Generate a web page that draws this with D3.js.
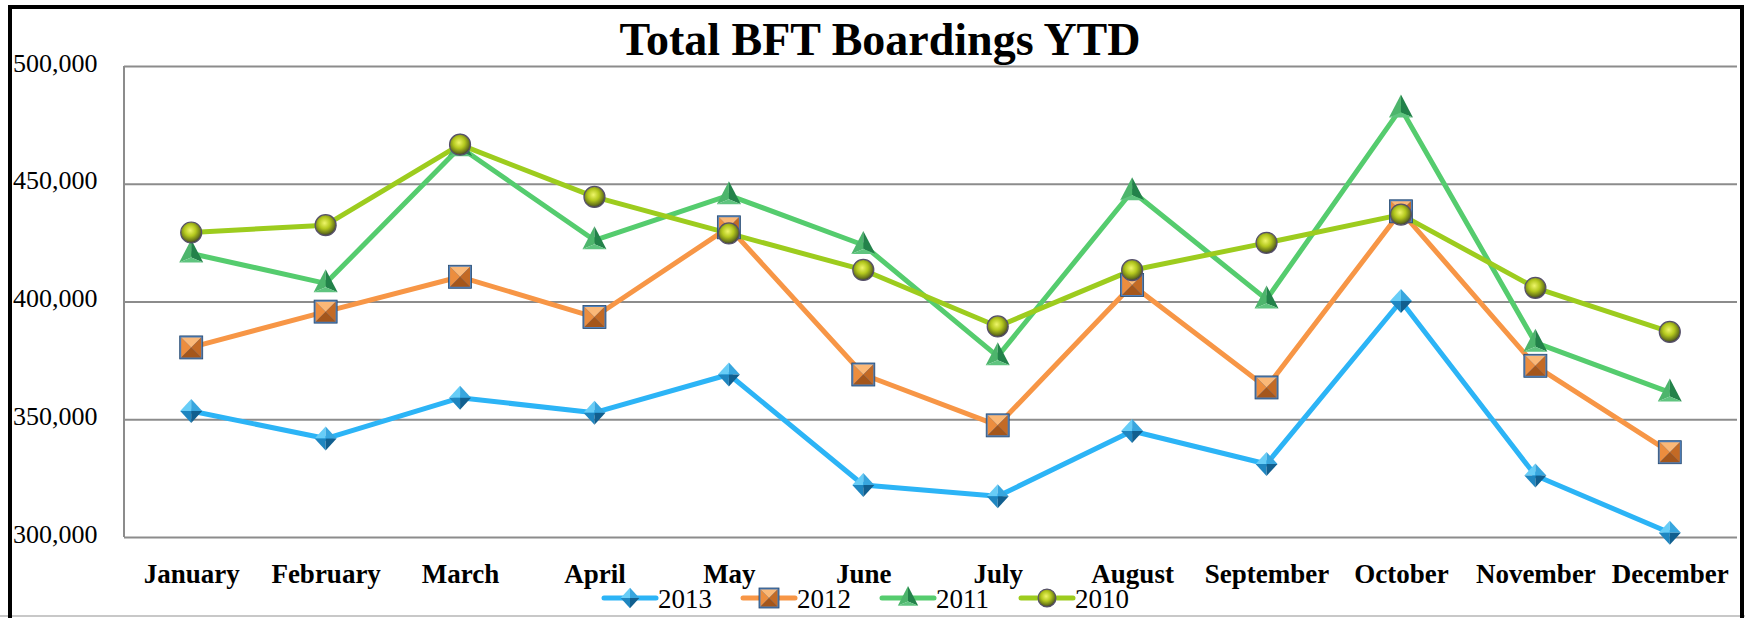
<!DOCTYPE html>
<html>
<head>
<meta charset="utf-8">
<script src="https://cdnjs.cloudflare.com/ajax/libs/d3/7.8.5/d3.min.js"></script>
<style>
    body { margin: 0; background: #fff; }
    svg { display: block; }
</style>
</head>
<body>
<div id="chart"></div>
<script>
// values
const months = ["January", "February", "March", "April", "May", "June",
    "July", "August", "September", "October", "November", "December"];
const years = ["2013", "2012", "2011", "2010"];
const v2013 = [353500, 341800, 359100, 352800, 369000, 322100, 317300, 345000, 331000, 400200, 326100, 301800];
const v2012 = [380500, 395700, 410500, 393400, 431500, 369000, 347400, 407000, 363500, 438300, 372700, 336000];
const v2011 = [420400, 407700, 465500, 426000, 445100, 424000, 376700, 446800, 400900, 482000, 382500, 361400];
const v2010 = [429300, 432400, 466600, 444400, 428900, 413400, 389400, 413300, 424900, 436900, 405800, 387100];
const yTicks = [300000, 350000, 400000, 450000, 500000];

const W = 1745, H = 618;
const plotLeft = 124, plotRight = 1737, plotTop = 66, plotBottom = 537;

const series = [
    {name: years[0], values: v2013, color: "#2cb4f6", marker: "diamond"},
    {name: years[1], values: v2012, color: "#f79646", marker: "square"},
    {name: years[2], values: v2011, color: "#55cc6e", marker: "triangle"},
    {name: years[3], values: v2010, color: "#9dcc1e", marker: "circle"}
];

const svg = d3.select("#chart").append("svg")
    .attr("width", W)
    .attr("height", H);

const defs = svg.append("defs");
const ball = defs.append("radialGradient")
    .attr("id", "ball").attr("cx", "45%").attr("cy", "40%").attr("r", "60%");
ball.append("stop").attr("offset", "0%").attr("stop-color", "#eef56a");
ball.append("stop").attr("offset", "45%").attr("stop-color", "#b4c81e");
ball.append("stop").attr("offset", "80%").attr("stop-color", "#6d7a1a");
ball.append("stop").attr("offset", "100%").attr("stop-color", "#3c3c3c");

const x = d3.scalePoint().domain(months).range([plotLeft, plotRight]).padding(0.5);
const y = d3.scaleLinear().domain([300000, 500000]).range([plotBottom, plotTop]);

// frame
svg.append("line")
    .attr("x1", 0).attr("x2", W).attr("y1", 616).attr("y2", 616)
    .attr("stroke", "#c8c8c8").attr("stroke-width", 2);
svg.append("path")
    .attr("d", "M10,618 V7 H1742 V618")
    .attr("fill", "none").attr("stroke", "#000").attr("stroke-width", 4);

// title
svg.append("text")
    .attr("x", 880)
    .attr("y", 55)
    .attr("text-anchor", "middle")
    .style("font-family", "'Liberation Serif', serif")
    .style("font-weight", "bold")
    .style("font-size", "46px")
    .text("Total BFT Boardings YTD");

// y axis with grid lines
const yAxis = svg.append("g")
    .attr("transform", "translate(" + plotLeft + ",0)")
    .call(d3.axisLeft(y).tickValues(yTicks).tickSize(-(plotRight - plotLeft)).tickFormat(d3.format(",")));
yAxis.select(".domain").remove();
yAxis.selectAll(".tick line").attr("stroke", "#8c8c8c").attr("stroke-width", 2);
yAxis.selectAll(".tick text")
    .attr("x", 13 - plotLeft)
    .attr("dy", "0.2em")
    .attr("text-anchor", "start")
    .attr("fill", "#000")
    .style("font-family", "'Liberation Serif', serif")
    .style("font-size", "26px");

svg.append("line")
    .attr("x1", plotLeft).attr("x2", plotLeft).attr("y1", plotTop).attr("y2", plotBottom)
    .attr("stroke", "#8c8c8c").attr("stroke-width", 2);

// x axis labels
const xAxis = svg.append("g")
    .attr("transform", "translate(0," + plotBottom + ")")
    .call(d3.axisBottom(x).tickSize(0));
xAxis.select(".domain").remove();
xAxis.selectAll(".tick text")
    .attr("y", 46)
    .attr("dy", 0)
    .attr("fill", "#000")
    .style("font-family", "'Liberation Serif', serif")
    .style("font-weight", "bold")
    .style("font-size", "27px");

// 3d-ish markers, drawn around (0,0)
function drawMarker(g, type, s) {
    if (type === "diamond") {
        const a = 11 * s, b = 12 * s;
        const facets = [
            ["M0,0 L0," + (-b) + " L" + (-a) + ",0 Z", "#67cdf7"],
            ["M0,0 L0," + (-b) + " L" + a + ",0 Z", "#38a6de"],
            ["M0,0 L0," + b + " L" + (-a) + ",0 Z", "#1f86c0"],
            ["M0,0 L0," + b + " L" + a + ",0 Z", "#115f8f"]
        ];
        facets.forEach(function (f) {
            g.append("path").attr("d", f[0]).attr("fill", f[1]);
        });
    } else if (type === "square") {
        const a = 10 * s;
        g.append("rect").attr("x", -a - 1.5).attr("y", -a - 1.5)
            .attr("width", 2 * a + 3).attr("height", 2 * a + 3)
            .attr("fill", "#4f81bd");
        const facets = [
            ["M0,0 L" + (-a) + "," + (-a) + " L" + a + "," + (-a) + " Z", "#fbb877"],
            ["M0,0 L" + (-a) + "," + (-a) + " L" + (-a) + "," + a + " Z", "#ec8d3e"],
            ["M0,0 L" + a + "," + (-a) + " L" + a + "," + a + " Z", "#c36a25"],
            ["M0,0 L" + (-a) + "," + a + " L" + a + "," + a + " Z", "#a4561b"]
        ];
        facets.forEach(function (f) {
            g.append("path").attr("d", f[0]).attr("fill", f[1]);
        });
        g.append("rect").attr("x", -a - 1.5).attr("y", -a - 1.5)
            .attr("width", 2 * a + 3).attr("height", 2 * a + 3)
            .attr("fill", "none").attr("stroke", "#24476e").attr("stroke-width", 0.8);
    } else if (type === "triangle") {
        const a = 12 * s, t = 14 * s, bt = 9 * s, cy = 4 * s;
        const facets = [
            ["M0," + (-t) + " L" + (-a) + "," + bt + " L0," + cy + " Z", "#4db56c"],
            ["M0," + (-t) + " L" + a + "," + bt + " L0," + cy + " Z", "#23824a"],
            ["M" + (-a) + "," + bt + " L" + a + "," + bt + " L0," + cy + " Z", "#5fc47f"]
        ];
        facets.forEach(function (f) {
            g.append("path").attr("d", f[0]).attr("fill", f[1]);
        });
    } else {
        g.append("circle").attr("r", 10.5 * s).attr("fill", "url(#ball)")
            .attr("stroke", "#56506a").attr("stroke-width", 1.2);
    }
}

const line = d3.line()
    .x(function (d, i) { return x(months[i]); })
    .y(function (d) { return y(d); });

series.forEach(function (s) {
    svg.append("path")
        .datum(s.values)
        .attr("d", line)
        .attr("fill", "none")
        .attr("stroke", s.color)
        .attr("stroke-width", 5)
        .attr("stroke-linejoin", "round");
});

series.forEach(function (s) {
    svg.selectAll(".m" + s.name)
        .data(s.values)
        .enter()
        .append("g")
        .attr("class", "m" + s.name)
        .attr("transform", function (d, i) {
            return "translate(" + x(months[i]) + "," + y(d) + ")";
        })
        .each(function () { drawMarker(d3.select(this), s.marker, 1); });
});

// legend
const legend = svg.append("g").attr("transform", "translate(604,598)");
series.forEach(function (s, i) {
    const g = legend.append("g").attr("transform", "translate(" + (i * 139) + ",0)");
    g.append("line")
        .attr("x1", 0).attr("x2", 52).attr("y1", 0).attr("y2", 0)
        .attr("stroke", s.color).attr("stroke-width", 5).attr("stroke-linecap", "round");
    const m = g.append("g").attr("transform", "translate(26,0)");
    drawMarker(m, s.marker, 0.85);
    g.append("text")
        .attr("x", 54)
        .attr("y", 10)
        .style("font-family", "'Liberation Serif', serif")
        .style("font-size", "27px")
        .text(s.name);
});
</script>
</body>
</html>
